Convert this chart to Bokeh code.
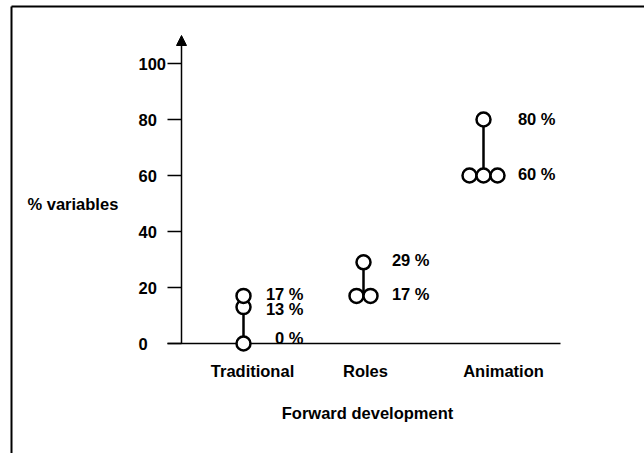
from bokeh.plotting import figure
from bokeh.models import Range1d, Arrow, NormalHead, ColumnDataSource
from bokeh.core.properties import value
from bokeh.embed import file_html
from bokeh.resources import INLINE

# ---------------- data ----------------
categories = ["Traditional", "Roles", "Animation"]
traditional = [0, 13, 17]
roles = [17, 17, 29]
animation = [60, 60, 60, 80]
y_ticks = [0, 20, 40, 60, 80, 100]
y_tick_labels = ["0", "20", "40", "60", "80", "100"]
y_title = "% variables"
x_title = "Forward development"

series = [traditional, roles, animation]

# ---------------- layout (pixels) ----------------
W, H = 644, 453
CAT_PX0, CAT_STEP = 243, 120      # pixel x of first category, px per category
Y0_PX, PX_PER_UNIT = 343, 2.8     # pixel y of value 0, px per percent
DODGE_PX = 14                     # horizontal spread of equal values
FONT = value("Liberation Sans")
FSIZE = "16.5px"


def px_x(px):
    return (px - CAT_PX0) / CAT_STEP


def px_y(py):
    return (Y0_PX - py) / PX_PER_UNIT


p = figure(width=W, height=H,
           x_range=Range1d(px_x(0), px_x(W)),
           y_range=Range1d(px_y(H), px_y(0)),
           output_backend="svg", toolbar_location=None,
           x_axis_type=None, y_axis_type=None, min_border=0)
p.grid.visible = False
p.outline_line_color = None
p.background_fill_color = "white"
p.border_fill_color = "white"

# outer frame (top and left edges visible)
p.segment(x0=[px_x(11), px_x(11)], y0=[px_y(6), px_y(6)],
          x1=[px_x(11), px_x(W + 5)], y1=[px_y(H + 5), px_y(6)],
          line_color="black", line_width=2)

# y axis with arrow
ax_x = px_x(181)
p.add_layout(Arrow(end=NormalHead(size=10, fill_color="black", line_color="black"),
                   x_start=ax_x, y_start=0, x_end=ax_x, y_end=px_y(35),
                   line_color="black", line_width=1.5))
# y ticks
tick_x0 = px_x(167)
p.segment(x0=[tick_x0] * len(y_ticks), y0=y_ticks,
          x1=[ax_x] * len(y_ticks), y1=y_ticks,
          line_color="black", line_width=1.5)
p.text(x=[px_x(138)] * len(y_ticks), y=y_ticks, text=y_tick_labels,
       text_font=FONT, text_font_size=FSIZE, text_font_style="bold",
       text_align="left", text_baseline="middle", text_color="black")

# x axis line
p.segment(x0=[tick_x0], y0=[0], x1=[px_x(560)], y1=[0],
          line_color="black", line_width=1.5)

# category labels
CAT_LABEL_DX = [9, 2, 20]
p.text(x=[i + CAT_LABEL_DX[i] / CAT_STEP for i in range(len(categories))],
       y=[px_y(370)] * len(categories), text=categories,
       text_font=FONT, text_font_size=FSIZE, text_font_style="bold",
       text_align="center", text_baseline="middle", text_color="black")

# axis titles
p.text(x=[px_x(27)], y=[px_y(203)], text=[y_title],
       text_font=FONT, text_font_size=FSIZE, text_font_style="bold",
       text_align="left", text_baseline="middle", text_color="black")
p.text(x=[px_x(367)], y=[px_y(412)], text=[x_title],
       text_font=FONT, text_font_size=FSIZE, text_font_style="bold",
       text_align="center", text_baseline="middle", text_color="black")

# range lines per category
p.segment(x0=list(range(len(series))), y0=[min(s) for s in series],
          x1=list(range(len(series))), y1=[max(s) for s in series],
          line_color="black", line_width=2.5)

# points (equal values spread horizontally)
px, py = [], []
for i, s in enumerate(series):
    for v in sorted(set(s)):
        n = s.count(v)
        for k in range(n):
            px.append(i + (k - (n - 1) / 2) * DODGE_PX / CAT_STEP)
            py.append(v)
p.scatter(x=px, y=py, marker="circle", size=14,
          fill_color="white", line_color="black", line_width=2.5)

# value labels
LABEL_DX = [60, 66, 72]
LABEL_DY = [-6, 1.5, -2, -1.5, -2, -2, -1]
lx, ly, lt = [], [], []
for i, s in enumerate(series):
    for v in sorted(set(s)):
        lx.append(i + LABEL_DX[i] / CAT_STEP)
        ly.append(v)
        lt.append(f"{v} %")
src = ColumnDataSource(dict(x=lx, y=ly, t=lt, dy=LABEL_DY))
p.text(x="x", y="y", text="t", y_offset="dy", source=src,
       text_font=FONT, text_font_size=FSIZE, text_font_style="bold",
       text_align="right", text_baseline="middle", text_color="black")

open("out.html", "w").write(file_html(p, INLINE))
